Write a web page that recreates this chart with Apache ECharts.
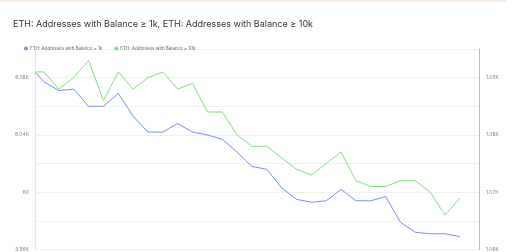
<!DOCTYPE html>
<html lang="en">
  <head>
    <meta charset="UTF-8" />
    <title>ETH addresses with balance</title>
    <style>
      html, body { margin: 0; padding: 0; background: #fff; }
      #main { width: 515px; height: 252px; }
    </style>
  </head>
  <body>
    <div id="main"></div>
    <script src="https://cdn.jsdelivr.net/npm/echarts@6/dist/echarts.min.js"></script>
    <script>
      // first sample is a partial week, then weekly
      var dates = [
        "2024-01-03 18:00", "2024-01-08", "2024-01-15", "2024-01-22", "2024-01-29",
        "2024-02-05", "2024-02-12", "2024-02-19", "2024-02-26", "2024-03-04",
        "2024-03-11", "2024-03-18", "2024-03-25", "2024-04-01", "2024-04-08",
        "2024-04-15", "2024-04-22", "2024-04-29", "2024-05-06", "2024-05-13",
        "2024-05-20", "2024-05-27", "2024-06-03", "2024-06-10", "2024-06-17",
        "2024-06-24", "2024-07-01", "2024-07-08", "2024-07-15", "2024-07-22"
      ];
      var xMax = "2024-07-31";
      var bal1k = [
        6084, 6077, 6071, 6072, 6060, 6060, 6069, 6053, 6042, 6042,
        6048, 6042, 6040, 6037, 6028, 6018, 6016, 6003, 5995, 5993,
        5994, 6002, 5994, 5994, 5997, 5979, 5972, 5971, 5971, 5969
      ];
      var bal10k = [
        1091, 1091, 1088, 1090, 1093, 1086, 1091, 1088, 1090, 1091,
        1088, 1089, 1084, 1084, 1080, 1078, 1078, 1076, 1074, 1073,
        1075, 1077, 1072, 1071, 1071, 1072, 1072, 1070, 1066, 1069
      ];
      var name1k = "ETH: Addresses with Balance \u2265 1k";
      var name10k = "ETH: Addresses with Balance \u2265 10k";

      function kfmt(v) {
        return parseFloat((v / 1000).toFixed(2)) + "K";
      }

      var chart = echarts.init(document.getElementById("main"));
      chart.setOption({
        animation: false,
        backgroundColor: "#fff",
        graphic: [
          {
            type: "rect",
            shape: { x: 0, y: 0, width: 506, height: 2 },
            style: { fill: "#fbe8dd" }
          }
        ],
        title: {
          text: name1k + ", " + name10k,
          left: 8,
          top: 15,
          textStyle: {
            fontFamily: "Inter",
            fontSize: 9,
            fontWeight: "normal",
            color: "#333"
          }
        },
        legend: {
          left: 19,
          top: 41,
          icon: "circle",
          itemWidth: 4,
          itemHeight: 4,
          itemGap: 12,
          textStyle: { fontFamily: "Inter", fontSize: 4.5, color: "#666", padding: [0, 0, 0, -3] },
          data: [name1k, name10k]
        },
        grid: { left: 35, right: 36, top: 49, bottom: 0 },
        xAxis: {
          type: "time",
          show: false,
          min: "dataMin",
          max: xMax
        },
        yAxis: [
          {
            type: "value",
            min: 5960,
            max: 6100,
            interval: 20,
            axisLine: { show: true, lineStyle: { color: "#dce6f5" } },
            axisTick: { show: false },
            splitLine: { lineStyle: { color: "#f1f1f1" } },
            axisLabel: {
              fontFamily: "Inter",
              fontSize: 5,
              color: "#888",
              margin: 6,
              showMaxLabel: false,
              formatter: function (v) {
                return (v - 5960) % 40 === 0 ? kfmt(v) : "";
              }
            }
          },
          {
            type: "value",
            min: 1060,
            max: 1095,
            interval: 5,
            position: "right",
            axisLine: { show: true, lineStyle: { color: "#bbb", width: 1 } },
            axisTick: { show: false },
            splitLine: { show: false },
            axisLabel: {
              fontFamily: "Inter",
              fontSize: 5,
              color: "#888",
              margin: 7,
              formatter: function (v) {
                return v % 10 === 0 ? kfmt(v) : "";
              }
            }
          }
        ],
        series: [
          {
            name: name1k,
            type: "line",
            yAxisIndex: 0,
            symbol: "none",
            color: "#7090f2",
            lineStyle: { width: 1 },
            data: dates.map(function (d, i) { return [d, bal1k[i]]; })
          },
          {
            name: name10k,
            type: "line",
            yAxisIndex: 1,
            symbol: "none",
            color: "#7fe07f",
            lineStyle: { width: 1 },
            data: dates.map(function (d, i) { return [d, bal10k[i]]; })
          }
        ]
      });
    </script>
  </body>
</html>
